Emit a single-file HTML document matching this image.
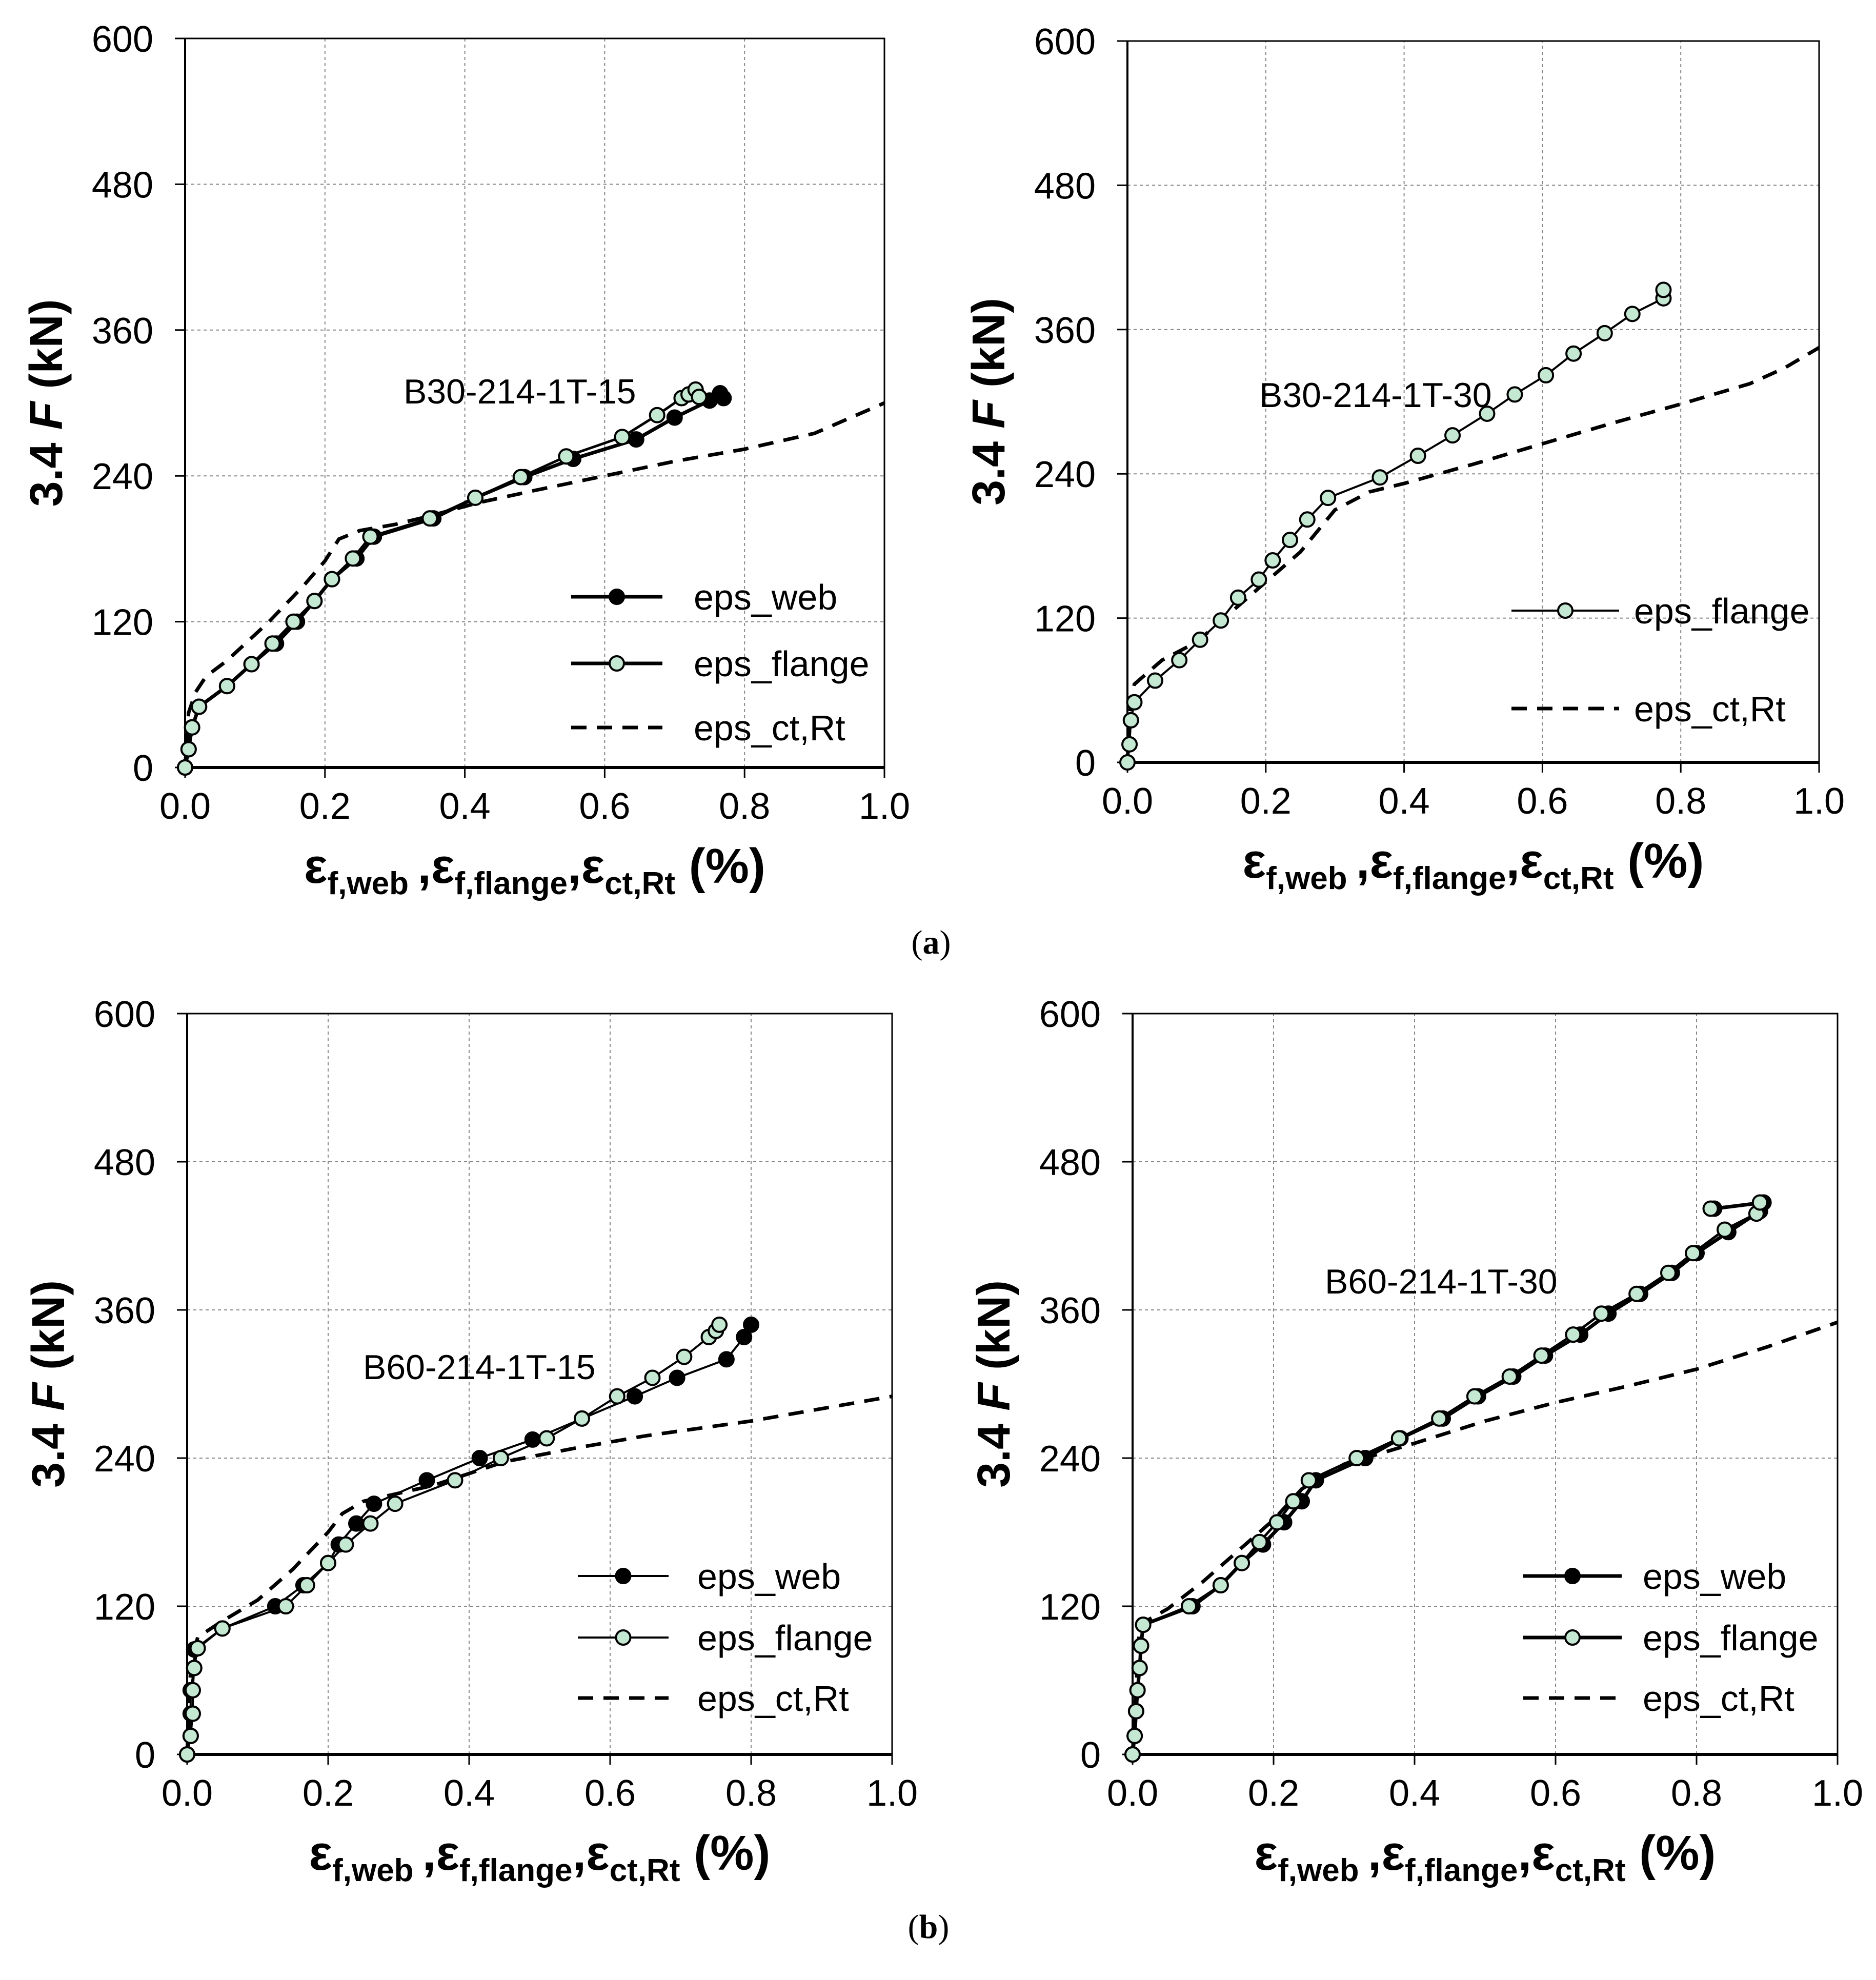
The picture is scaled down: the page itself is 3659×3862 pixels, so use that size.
<!DOCTYPE html>
<html><head><meta charset="utf-8"><style>
body{margin:0;background:#fff}
svg{display:block}
text{font-family:"Liberation Sans",sans-serif}
text.serif{font-family:"Liberation Serif",serif}
</style></head><body>
<svg id="fig" xmlns="http://www.w3.org/2000/svg" width="3659" height="3862" viewBox="0 0 3659 3862">
<rect width="3659" height="3862" fill="#fff"/>
<text class="serif" x="1816" y="1860" font-size="66" text-anchor="middle">(<tspan font-weight="bold">a</tspan>)</text>
<text class="serif" x="1811" y="3780" font-size="66" text-anchor="middle">(<tspan font-weight="bold">b</tspan>)</text>
</svg>
<script>
const xTicks=["0.0","0.2","0.4","0.6","0.8","1.0"];
const yTicks=["0","120","240","360","480","600"];
const p1WebX=[0,0.005,0.01,0.02,0.06,0.095,0.13,0.16,0.185,0.21,0.245,0.27,0.355,0.415,0.485,0.555,0.645,0.70,0.75,0.765,0.77];
const p1WebY=[0,15,33,50,67,85,102,120,137,155,172,190,205,222,239,254,270,288,302,308,304];
const p1FlX=[0,0.005,0.01,0.02,0.06,0.095,0.125,0.155,0.185,0.21,0.24,0.265,0.35,0.415,0.48,0.545,0.625,0.675,0.71,0.72,0.73,0.735];
const p1FlY=[0,15,33,50,67,85,102,120,137,155,172,190,205,222,239,256,272,290,304,307,311,305];
const p1CtX=[0,0.005,0.015,0.03,0.06,0.12,0.17,0.2,0.22,0.25,0.3,0.35,0.42,0.5,0.6,0.7,0.8,0.9,1.0];
const p1CtY=[0,45,62,75,88,120,150,170,188,195,200,207,218,228,240,252,262,275,300];
const p2FlX=[0,0.003,0.005,0.01,0.04,0.075,0.105,0.135,0.16,0.19,0.21,0.235,0.26,0.29,0.365,0.42,0.47,0.52,0.56,0.605,0.645,0.69,0.73,0.775,0.775];
const p2FlY=[0,15,35,50,68,85,102,118,137,152,168,185,202,220,237,255,272,290,306,322,340,357,373,386,393];
const p2CtX=[0,0.003,0.01,0.05,0.1,0.15,0.2,0.25,0.3,0.35,0.4,0.5,0.6,0.7,0.8,0.9,0.95,1.0];
const p2CtY=[0,40,65,85,100,125,150,175,210,225,232,248,265,282,298,315,328,345];
const p3WebX=[0,0.005,0.005,0.005,0.01,0.01,0.05,0.125,0.165,0.2,0.215,0.24,0.265,0.34,0.415,0.49,0.635,0.695,0.765,0.79,0.8];
const p3WebY=[0,15,33,52,70,85,102,120,137,155,170,187,203,222,240,255,290,305,320,338,348];
const p3FlX=[0,0.005,0.008,0.008,0.01,0.015,0.05,0.14,0.17,0.2,0.225,0.26,0.295,0.38,0.445,0.51,0.56,0.61,0.66,0.705,0.74,0.75,0.755];
const p3FlY=[0,15,33,52,70,86,102,120,137,155,170,187,203,222,240,256,272,290,305,322,338,343,348];
const p3CtX=[0,0.005,0.015,0.05,0.1,0.15,0.2,0.22,0.25,0.35,0.45,0.55,0.65,0.8,0.9,1.0];
const p3CtY=[0,70,95,108,125,150,180,195,205,218,237,248,258,270,280,290];
const p4WebX=[0,0.003,0.005,0.007,0.01,0.012,0.015,0.085,0.125,0.155,0.185,0.215,0.24,0.26,0.33,0.38,0.44,0.49,0.54,0.585,0.635,0.675,0.72,0.765,0.8,0.845,0.89,0.895,0.825];
const p4WebY=[0,15,35,52,70,88,105,120,137,155,170,188,205,222,240,256,272,290,306,323,340,357,373,390,406,423,440,447,442];
const p4FlX=[0,0.003,0.005,0.007,0.01,0.012,0.015,0.08,0.125,0.155,0.18,0.205,0.228,0.25,0.318,0.378,0.435,0.485,0.535,0.58,0.625,0.665,0.715,0.76,0.795,0.84,0.885,0.89,0.82];
const p4FlY=[0,15,35,52,70,88,105,120,137,155,172,188,205,222,240,256,272,290,306,323,340,357,373,390,406,425,438,447,442];
const p4CtX=[0,0.01,0.05,0.1,0.15,0.2,0.24,0.3,0.4,0.5,0.6,0.7,0.8,0.9,1.0];
const p4CtY=[0,105,118,140,165,190,215,235,252,270,285,298,312,330,350];

const NS="http://www.w3.org/2000/svg";
const svg=document.getElementById('fig');
function mk(tag,attrs,parent){const e=document.createElementNS(NS,tag);for(const k in attrs)e.setAttribute(k,attrs[k]);(parent||svg).appendChild(e);return e;}

function panel(cfg){
  const g=mk('g',{});
  
  
  const {x0,x1,y0,y1}=cfg;
  const sx=v=>x0+(x1-x0)*v;
  const sy=v=>y0-(y0-y1)*v/600;
  for(let i=1;i<xTicks.length;i++){const l=mk('line',{x1:sx(i*0.2),x2:sx(i*0.2),y1:y0,y2:y1,stroke:'#888','stroke-width':2,'stroke-dasharray':'6,6'},g);
    }
  for(let i=1;i<yTicks.length;i++){const l=mk('line',{x1:x0,x2:x1,y1:sy(i*120),y2:sy(i*120),stroke:'#888','stroke-width':2,'stroke-dasharray':'6,6'},g);
    }
  const fr=mk('rect',{x:x0,y:y1,width:x1-x0,height:y0-y1,fill:'none',stroke:'#000','stroke-width':3},g);
  
  mk('line',{x1:x0,x2:x0,y1:y1,y2:y0,stroke:'#000','stroke-width':4},g);
  mk('line',{x1:x0,x2:x1,y1:y0,y2:y0,stroke:'#000','stroke-width':6},g);
  xTicks.forEach((t,i)=>{const X=sx(i*0.2);
    mk('line',{x1:X,x2:X,y1:y0,y2:y0+20,stroke:'#000','stroke-width':3},g);
    const tx=mk('text',{x:X,y:y0+100,'font-size':72,'text-anchor':'middle'},g);tx.textContent=t;
    });
  yTicks.forEach((t,i)=>{const Y=sy(i*120);
    mk('line',{x1:x0-20,x2:x0,y1:Y,y2:Y,stroke:'#000','stroke-width':3},g);
    const tx=mk('text',{x:x0-62,y:Y+26,'font-size':72,'text-anchor':'end'},g);tx.textContent=t;
    });
  const yt=mk('text',{transform:`translate(${x0-240},${(y0+y1)/2}) rotate(-90)`,'font-size':90,'font-weight':'bold','text-anchor':'middle'},g);
  yt.innerHTML='3.4 <tspan font-style="italic">F</tspan> (kN)';
  
  const xt=mk('text',{x:(x0+x1)/2,y:y0+225,'font-size':96,'font-weight':'bold','text-anchor':'middle'},g);
  xt.innerHTML='ε<tspan font-size="62" dy="22">f,web </tspan><tspan dy="-22">,ε</tspan><tspan font-size="62" dy="22">f,flange</tspan><tspan dy="-22">,ε</tspan><tspan font-size="62" dy="22">ct,Rt</tspan><tspan dy="-22"> (%)</tspan>';
  
  const lb=mk('text',{x:cfg.lab[0],y:cfg.lab[1]+25,'font-size':68},g);lb.textContent=cfg.label;
  
  function pts(X,Y){return X.map((v,i)=>sx(v)+','+sy(Y[i])).join(' ');}
  const ct=mk('polyline',{points:pts(cfg.ct[0],cfg.ct[1]),fill:'none',stroke:'#000','stroke-width':7,'stroke-dasharray':'30,20'},g);
  
  function series(X,Y,fill,w,name){
    const pl=mk('polyline',{points:pts(X,Y),fill:'none',stroke:'#000','stroke-width':w,'stroke-linejoin':'round'},g);
    
    X.forEach((v,i)=>{const c=mk('circle',{cx:sx(v),cy:sy(Y[i]),r:14,fill:fill,stroke:'#000','stroke-width':4},g);
      });
  }
  if(cfg.web)series(cfg.web[0],cfg.web[1],'#000',cfg.ww,'eps-web');
  series(cfg.fl[0],cfg.fl[1],'#c4e8d2',cfg.fw,'eps-flange');
  cfg.leg.forEach(e=>{
    const lg=mk('g',{},g);
    if(e.t==='eps_ct,Rt')mk('line',{x1:e.l0,x2:e.l1,y1:e.y,y2:e.y,stroke:'#000','stroke-width':7,'stroke-dasharray':'30,20'},lg);
    else{mk('line',{x1:e.l0,x2:e.l1,y1:e.y,y2:e.y,stroke:'#000','stroke-width':e.w},lg);
      mk('circle',{cx:(e.l0+e.l1)/2,cy:e.y,r:14,fill:e.f,stroke:'#000','stroke-width':4},lg);}
    const t=mk('text',{x:e.tx,y:e.y+25,'font-size':70},lg);t.textContent=e.t;
  });
}
function legRows(l0,l1,tx,ys,w,names){return names.map((n,i)=>({t:n,l0,l1,tx,y:ys[i],w,f:n==='eps_web'?'#000':'#c4e8d2'}));}
panel({name:'panel-b30-15',x0:361,x1:1725,y0:1497,y1:75,label:'B30-214-1T-15',lab:[787,762],
  web:[p1WebX,p1WebY],fl:[p1FlX,p1FlY],ct:[p1CtX,p1CtY],ww:7,fw:5,
  leg:legRows(1114,1292,1353,[1164,1294,1419],7,['eps_web','eps_flange','eps_ct,Rt'])});
panel({name:'panel-b30-30',x0:2199,x1:3548,y0:1487,y1:80,label:'B30-214-1T-30',lab:[2456,769],
  fl:[p2FlX,p2FlY],ct:[p2CtX,p2CtY],fw:4,
  leg:legRows(2948,3158,3187,[1191,1382],4,['eps_flange','eps_ct,Rt'])});
panel({name:'panel-b60-15',x0:365,x1:1740,y0:3422,y1:1977,label:'B60-214-1T-15',lab:[708,2665],
  web:[p3WebX,p3WebY],fl:[p3FlX,p3FlY],ct:[p3CtX,p3CtY],ww:4,fw:4,
  leg:legRows(1127,1304,1360,[3074,3194,3312],4,['eps_web','eps_flange','eps_ct,Rt'])});
panel({name:'panel-b60-30',x0:2209,x1:3584,y0:3422,y1:1977,label:'B60-214-1T-30',lab:[2584,2498],
  web:[p4WebX,p4WebY],fl:[p4FlX,p4FlY],ct:[p4CtX,p4CtY],ww:7,fw:5,
  leg:legRows(2971,3163,3204,[3074,3194,3312],7,['eps_web','eps_flange','eps_ct,Rt'])});
</script>
</body></html>
